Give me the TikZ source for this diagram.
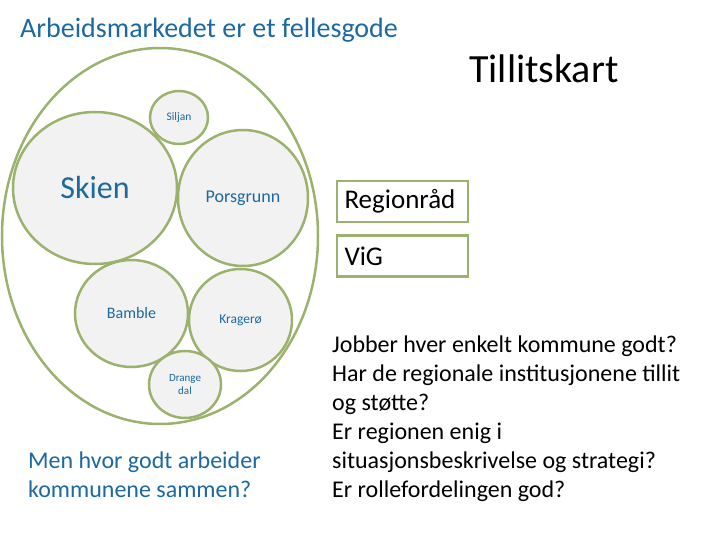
\documentclass[tikz,border=0pt]{standalone}
\usepackage{fontspec}
\setmainfont{Carlito}
\definecolor{olivegreen}{RGB}{155,178,110}
\definecolor{lightgray}{RGB}{242,242,242}
\definecolor{titleblue}{RGB}{28,104,160}
\usetikzlibrary{positioning, shapes.geometric}

\begin{document}
\begin{tikzpicture}[x=1pt, y=-1pt,
  kommune/.style={ellipse, draw=olivegreen, line width=2.5pt, fill=lightgray,
    inner sep=0pt, text=titleblue, align=center},
  orgbox/.style={draw=olivegreen, line width=2.5pt, fill=white, inner sep=0pt,
    minimum width=131pt, minimum height=41pt, text width=116pt, align=left,
    font=\fontsize{27}{30}\selectfont},
]
\useasboundingbox (0,0) rectangle (720,540);

% Headings
\node[anchor=west, inner sep=0pt, text=titleblue, font=\fontsize{28}{32}\selectfont]
  (title) at (20,30) {Arbeidsmarkedet er et fellesgode};
\node[anchor=west, inner sep=0pt, font=\fontsize{40}{44}\selectfont]
  (kart) at (469,69) {Tillitskart};

% The region
\node[ellipse, draw=olivegreen, line width=2.5pt, minimum width=316pt,
  minimum height=376pt, inner sep=0pt] (region) at (160,236) {};

% Municipalities
\node[kommune, minimum width=58pt, minimum height=53pt, font=\fontsize{11.5}{12}\selectfont]
  (siljan) at (179,117.5) {Siljan};
\node[kommune, minimum width=164pt, minimum height=152pt, font=\fontsize{32}{36}\selectfont]
  (skien) at (95,188) {Skien};
\node[kommune, minimum width=130pt, minimum height=136pt, font=\fontsize{18}{20}\selectfont]
  (porsgrunn) at (243,198) {Porsgrunn};
\node[kommune, minimum width=113pt, minimum height=107pt, font=\fontsize{16}{18}\selectfont]
  (bamble) at (131.5,313.5) {Bamble};
\node[kommune, minimum width=103pt, minimum height=102pt, font=\fontsize{13.5}{15}\selectfont]
  (kragero) at (240.5,320) {Kragerø};
\node[kommune, minimum width=72pt, minimum height=67pt, font=\fontsize{11}{13}\selectfont]
  (drangedal) at (185,384.5) {Drange\\dal};

% Regional bodies
\node[orgbox] (regionrad) at (402.5,201.5) {Regionråd};
\node[orgbox] (vig) at (402.5,256) {ViG};

% Questions
\node[anchor=north west, inner sep=0pt, align=left, text=titleblue,
  font=\fontsize{24}{29}\selectfont] (sammen) at (28,452)
  {Men hvor godt arbeider\\kommunene sammen?};
\node[anchor=north west, inner sep=0pt, align=left,
  font=\fontsize{24}{29}\selectfont] (sporsmal) at (332,336)
  {Jobber hver enkelt kommune godt?\\Har de regionale institusjonene tillit\\og støtte?\\Er regionen enig i\\situasjonsbeskrivelse og strategi?\\Er rollefordelingen god?};
\end{tikzpicture}
\end{document}
